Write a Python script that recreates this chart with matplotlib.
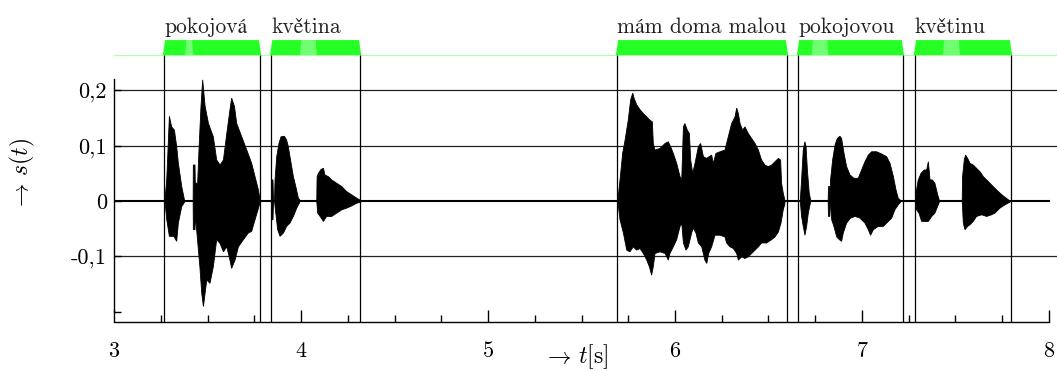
import matplotlib
matplotlib.use("Agg")
import matplotlib.pyplot as plt
from matplotlib.patches import Polygon

plt.rcParams['mathtext.fontset'] = 'cm'
plt.rcParams['axes.unicode_minus'] = False

# Slova a jejich hranice v čase [s]
words = ['pokojová', 'květina', 'mám doma malou', 'pokojovou', 'květinu']
seg_start = [3.267, 3.840, 5.690, 6.658, 7.283]
seg_end = [3.781, 4.316, 6.599, 7.219, 7.797]

# Pauzy uvnitř slov (světlejší úseky pruhu)
pause_start = [3.380, 3.995, 6.731, 7.433]
pause_end = [3.424, 4.084, 6.820, 7.524]

# Obálka signálu s(t): horní a dolní body (t, s) každého úseku řeči
po1_up = [(3.272, 0.0), (3.282, 0.040), (3.296, 0.153), (3.308, 0.134), (3.323, 0.128),
          (3.335, 0.098), (3.344, 0.068), (3.362, 0.026), (3.376, 0.003)]
po1_lo = [(3.272, 0.0), (3.282, -0.034), (3.296, -0.064), (3.320, -0.064), (3.335, -0.073),
          (3.344, -0.040), (3.362, -0.010), (3.376, -0.003)]

kojova_up = [(3.423, 0.0), (3.424, 0.065), (3.433, 0.065), (3.435, 0.020), (3.437, 0.032),
             (3.447, 0.032), (3.455, 0.098), (3.465, 0.171), (3.474, 0.219), (3.487, 0.171),
             (3.505, 0.140), (3.531, 0.116), (3.549, 0.074), (3.567, 0.065), (3.585, 0.074),
             (3.603, 0.122), (3.620, 0.165), (3.629, 0.186), (3.644, 0.171), (3.656, 0.140),
             (3.683, 0.116), (3.710, 0.092), (3.736, 0.068), (3.754, 0.044), (3.772, 0.020),
             (3.781, 0.002)]
kojova_lo = [(3.423, 0.0), (3.424, -0.052), (3.433, -0.052), (3.435, -0.020), (3.437, -0.034),
             (3.459, -0.119), (3.469, -0.167), (3.478, -0.191), (3.487, -0.167), (3.496, -0.143),
             (3.513, -0.149), (3.531, -0.119), (3.549, -0.070), (3.567, -0.077), (3.585, -0.092),
             (3.603, -0.083), (3.620, -0.107), (3.629, -0.122), (3.647, -0.107), (3.665, -0.083),
             (3.692, -0.070), (3.718, -0.058), (3.736, -0.055), (3.754, -0.034), (3.775, -0.010),
             (3.781, -0.002)]

klik1_up = [(3.842, 0.0), (3.845, 0.038), (3.850, 0.038), (3.853, 0.0)]
klik1_lo = [(3.842, 0.0), (3.845, -0.034), (3.850, -0.034), (3.853, 0.0)]

kve1_up = [(3.858, 0.0), (3.861, 0.038), (3.870, 0.080), (3.882, 0.104), (3.893, 0.116),
           (3.911, 0.117), (3.923, 0.110), (3.932, 0.098), (3.947, 0.068), (3.959, 0.044),
           (3.972, 0.026), (3.986, 0.005), (3.995, 0.001)]
kve1_lo = [(3.858, 0.0), (3.865, -0.022), (3.875, -0.052), (3.888, -0.064), (3.906, -0.058),
           (3.923, -0.046), (3.941, -0.040), (3.959, -0.028), (3.977, -0.013), (3.991, -0.004),
           (3.995, -0.001)]

tina_up = [(4.084, 0.0), (4.086, 0.044), (4.093, 0.050), (4.107, 0.057), (4.120, 0.059),
           (4.128, 0.047), (4.146, 0.044), (4.164, 0.038), (4.191, 0.032), (4.218, 0.026),
           (4.244, 0.017), (4.271, 0.011), (4.298, 0.005), (4.321, 0.0005)]
tina_lo = [(4.084, 0.0), (4.089, -0.022), (4.102, -0.028), (4.120, -0.037), (4.137, -0.028),
           (4.164, -0.028), (4.191, -0.022), (4.218, -0.016), (4.244, -0.013), (4.271, -0.009),
           (4.298, -0.004), (4.321, -0.002)]

mam_up = [(5.694, 0.0), (5.706, 0.038), (5.720, 0.086), (5.733, 0.110), (5.750, 0.146),
          (5.763, 0.183), (5.774, 0.195), (5.781, 0.186), (5.795, 0.174), (5.813, 0.165),
          (5.831, 0.158), (5.849, 0.152), (5.866, 0.146), (5.879, 0.143), (5.884, 0.104),
          (5.893, 0.092), (5.920, 0.095), (5.947, 0.104), (5.964, 0.107), (5.977, 0.098),
          (5.991, 0.086), (6.009, 0.068), (6.027, 0.044), (6.036, 0.038), (6.045, 0.134),
          (6.053, 0.140), (6.066, 0.128), (6.077, 0.122), (6.084, 0.074), (6.095, 0.050),
          (6.107, 0.068), (6.125, 0.098), (6.137, 0.104), (6.152, 0.080), (6.169, 0.077),
          (6.196, 0.083), (6.205, 0.068), (6.219, 0.086), (6.241, 0.089), (6.267, 0.092),
          (6.285, 0.116), (6.303, 0.140), (6.312, 0.146), (6.321, 0.152), (6.330, 0.168),
          (6.339, 0.158), (6.348, 0.140), (6.362, 0.128), (6.374, 0.134), (6.392, 0.122),
          (6.410, 0.113), (6.428, 0.104), (6.446, 0.092), (6.463, 0.074), (6.481, 0.065),
          (6.499, 0.062), (6.517, 0.065), (6.535, 0.071), (6.553, 0.077), (6.565, 0.074),
          (6.570, 0.032), (6.579, 0.014), (6.588, 0.001)]
mam_lo = [(5.694, 0.0), (5.706, -0.034), (5.724, -0.058), (5.742, -0.089), (5.759, -0.092),
          (5.777, -0.083), (5.795, -0.089), (5.813, -0.086), (5.831, -0.095), (5.849, -0.107),
          (5.863, -0.119), (5.875, -0.134), (5.884, -0.119), (5.893, -0.095), (5.920, -0.092),
          (5.947, -0.095), (5.964, -0.107), (5.973, -0.095), (5.991, -0.083), (6.009, -0.070),
          (6.027, -0.046), (6.036, -0.040), (6.045, -0.076), (6.059, -0.089), (6.071, -0.083),
          (6.089, -0.058), (6.098, -0.049), (6.112, -0.058), (6.125, -0.076), (6.143, -0.083),
          (6.160, -0.107), (6.170, -0.113), (6.180, -0.095), (6.196, -0.083), (6.214, -0.062),
          (6.241, -0.062), (6.267, -0.065), (6.276, -0.076), (6.294, -0.083), (6.312, -0.086),
          (6.330, -0.095), (6.339, -0.107), (6.357, -0.101), (6.374, -0.104), (6.392, -0.101),
          (6.410, -0.095), (6.428, -0.089), (6.446, -0.083), (6.463, -0.076), (6.490, -0.076),
          (6.517, -0.070), (6.535, -0.065), (6.553, -0.056), (6.567, -0.040), (6.579, -0.016),
          (6.588, -0.005)]

po2_up = [(6.670, 0.0), (6.677, 0.038), (6.686, 0.092), (6.695, 0.107), (6.701, 0.098),
          (6.708, 0.056), (6.718, 0.014), (6.726, 0.001)]
po2_lo = [(6.670, 0.0), (6.677, -0.028), (6.686, -0.046), (6.695, -0.062), (6.704, -0.046),
          (6.713, -0.022), (6.722, -0.007), (6.726, -0.002)]

klik2_up = [(6.819, 0.0), (6.821, 0.026), (6.828, 0.026), (6.830, 0.0)]
klik2_lo = [(6.819, 0.0), (6.821, -0.028), (6.828, -0.028), (6.830, 0.0)]

kojovou_up = [(6.830, 0.0), (6.832, 0.038), (6.843, 0.074), (6.856, 0.101), (6.868, 0.113),
              (6.882, 0.117), (6.891, 0.113), (6.904, 0.086), (6.918, 0.062), (6.936, 0.047),
              (6.957, 0.041), (6.980, 0.041), (6.998, 0.056), (7.016, 0.071), (7.034, 0.083),
              (7.052, 0.089), (7.078, 0.089), (7.105, 0.085), (7.132, 0.080), (7.150, 0.068),
              (7.168, 0.044), (7.182, 0.020), (7.194, 0.005), (7.207, 0.001)]
kojovou_lo = [(6.830, 0.0), (6.838, -0.034), (6.850, -0.046), (6.865, -0.065), (6.879, -0.070),
              (6.891, -0.073), (6.900, -0.058), (6.918, -0.040), (6.939, -0.031), (6.963, -0.028),
              (6.989, -0.031), (7.016, -0.040), (7.034, -0.052), (7.046, -0.062), (7.061, -0.052),
              (7.087, -0.046), (7.114, -0.046), (7.132, -0.040), (7.159, -0.031), (7.176, -0.016),
              (7.194, -0.007), (7.207, -0.002)]

kve2_up = [(7.287, 0.0), (7.292, 0.020), (7.301, 0.038), (7.316, 0.050), (7.333, 0.056),
           (7.346, 0.056), (7.355, 0.071), (7.364, 0.038), (7.376, 0.038), (7.390, 0.032),
           (7.405, 0.011), (7.414, 0.001)]
kve2_lo = [(7.287, 0.0), (7.292, -0.016), (7.305, -0.022), (7.319, -0.037), (7.337, -0.037),
           (7.355, -0.037), (7.373, -0.028), (7.390, -0.022), (7.408, -0.007), (7.414, -0.002)]

tinu_up = [(7.536, 0.0), (7.538, 0.044), (7.547, 0.074), (7.554, 0.083), (7.565, 0.077),
           (7.578, 0.068), (7.595, 0.065), (7.613, 0.059), (7.631, 0.053), (7.649, 0.044),
           (7.676, 0.035), (7.702, 0.026), (7.729, 0.017), (7.756, 0.009), (7.783, 0.002),
           (7.792, 0.0)]
tinu_lo = [(7.536, 0.0), (7.542, -0.040), (7.551, -0.052), (7.565, -0.046), (7.578, -0.043),
           (7.595, -0.037), (7.613, -0.028), (7.640, -0.025), (7.667, -0.028), (7.693, -0.025),
           (7.711, -0.022), (7.738, -0.013), (7.765, -0.007), (7.792, -0.002)]

bursts = [(po1_up, po1_lo), (kojova_up, kojova_lo), (klik1_up, klik1_lo),
          (kve1_up, kve1_lo), (tina_up, tina_lo), (mam_up, mam_lo),
          (po2_up, po2_lo), (klik2_up, klik2_lo), (kojovou_up, kojovou_lo),
          (kve2_up, kve2_lo), (tinu_up, tinu_lo)]

# Šum na nulové úrovni mezi slovy
noise_t = [3.01, 8.0]
noise_v = [0.0, 0.0]

y_ticks = [-0.2, -0.1, 0.0, 0.1, 0.2]
y_labels = ['', '-0,1', '0', '0,1', '0,2']
y_grid = [-0.1, 0.1, 0.2]
x_major = [3, 4, 5, 6, 7, 8]
x_minor = [3.25, 3.5, 3.75, 4.25, 4.5, 4.75, 5.25, 5.5, 5.75,
           6.25, 6.5, 6.75, 7.25, 7.5, 7.75]

BAR_LO, BAR_HI = 0.264, 0.291
GREEN = '#26ff26'
LIGHT_GREEN = '#70ff70'
num_font = ['cmr10', 'STIXGeneral']

fig = plt.figure(figsize=(10.57, 3.71), dpi=100)
ax = fig.add_axes([0.1079, 0.132, 0.8921, 0.760])
ax.set_xlim(3, 8.043)
ax.set_ylim(-0.219, BAR_HI)

# Mřížka
for g in y_grid:
    ax.axhline(g, color='#222222', lw=0.9, zorder=1)
ax.axhline(BAR_LO, color='#b0ffb0', lw=0.9, zorder=1)

# Průběh signálu
ax.plot(noise_t, noise_v, color='black', lw=1.5, zorder=3)
for up, lo in bursts:
    pts = up + lo[::-1]
    ax.fill([p[0] for p in pts], [p[1] for p in pts], facecolor='black',
            edgecolor='black', lw=0.6, zorder=3)

# Hranice slov a pruhy s popisky
slant = 0.006
for w, a, b in zip(words, seg_start, seg_end):
    ax.vlines([a, b], -0.219, BAR_LO, color='black', lw=0.9, zorder=2)
    ax.add_patch(Polygon([(a - slant, BAR_LO), (a + slant, BAR_HI), (b - slant, BAR_HI),
                          (b + slant, BAR_LO)], closed=True, facecolor=GREEN,
                         edgecolor='none', clip_on=False, zorder=2))
    ax.text(a, 0.304, w, family=num_font, fontsize=15.5, ha='left', va='baseline',
            color='#222222')
for a, b in zip(pause_start, pause_end):
    ax.add_patch(Polygon([(a, BAR_LO), (a + slant, BAR_HI), (b - slant, BAR_HI),
                          (b, BAR_LO)], closed=True, facecolor=LIGHT_GREEN,
                         edgecolor='none', clip_on=False, zorder=2))

# Osy
for s in ['top', 'right']:
    ax.spines[s].set_visible(False)
ax.spines['left'].set_bounds(-0.2, 0.22)
ax.spines['bottom'].set_bounds(3, 8)
ax.spines['left'].set_linewidth(1.0)
ax.spines['bottom'].set_linewidth(1.0)

ax.set_yticks(y_ticks)
ax.set_yticklabels(y_labels, family=num_font, fontsize=16)
ax.set_xticks(x_major)
ax.set_xticklabels([str(v) for v in x_major], family=num_font, fontsize=16)
ax.set_xticks(x_minor, minor=True)
ax.tick_params(axis='y', direction='in', length=5, width=1, pad=5)
ax.tick_params(axis='x', which='major', direction='in', length=9, width=1, pad=14)
ax.tick_params(axis='x', which='minor', direction='in', length=5, width=1)

fig.text(576 / 1057, 1 - 357 / 371, r'$\rightarrow\, t[\mathrm{s}]$', fontsize=17,
         ha='center', va='center')
fig.text(22 / 1057, 1 - 175 / 371, r'$\rightarrow\, s(t)$', fontsize=17,
         ha='center', va='center', rotation=90)

fig.savefig('out.png', dpi=100)
